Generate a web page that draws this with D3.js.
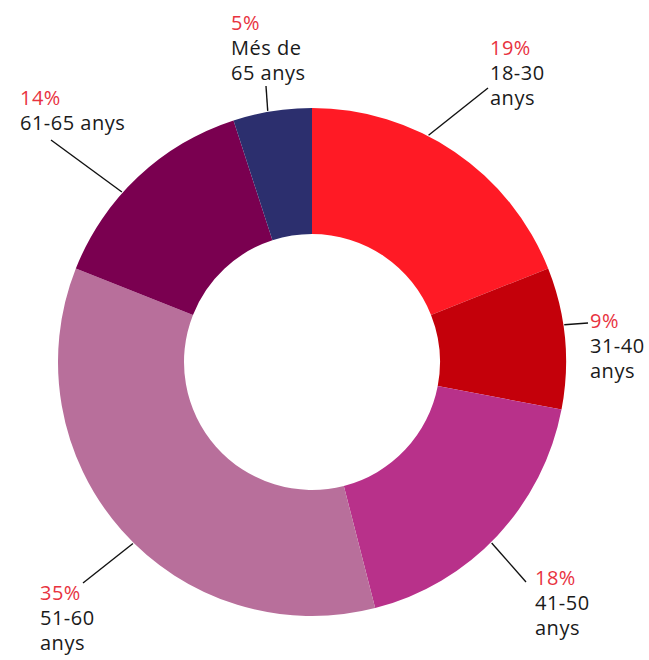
<!DOCTYPE html>
<html>
<head>
<meta charset="utf-8">
<script src="https://cdn.jsdelivr.net/npm/d3@7"></script>
<style>
  body { margin: 0; background: #fff; }
  text { font-family: "Open Sans", "DejaVu Sans", sans-serif; }
</style>
</head>
<body>
<svg id="chart" width="649" height="660"></svg>
<script>
"use strict";

// age groups, clockwise from the top
var categories = ["18-30 anys", "31-40 anys", "41-50 anys", "51-60 anys", "61-65 anys", "Més de 65 anys"];
var values = [19, 9, 18, 35, 14, 5];
var colors = ["#FF1A25", "#C4000A", "#B8318A", "#B86F9B", "#7A0050", "#2C2F6E"];
// how each label wraps onto lines
var labelLines = [["18-30", "anys"], ["31-40", "anys"], ["41-50", "anys"], ["51-60", "anys"], ["61-65 anys"], ["Més de", "65 anys"]];

// label layout: where the leader line ends, where the text block starts, angle nudge (deg)
var labelLayout = [
	{lx: 488, ly: 88, tx: 490, ty: 55, nudge: -7},
	{lx: 588, ly: 323, tx: 590, ty: 328, nudge: -3},
	{lx: 526, ly: 582, tx: 535, ty: 585, nudge: 2},
	{lx: 83, ly: 583, tx: 40, ty: 600, nudge: -4},
	{lx: 51, ly: 140, tx: 20, ty: 105, nudge: -5},
	{lx: 266, ly: 86, tx: 231, ty: 30, nudge: -1}
];

var svg = d3.select("#chart");
var cx = 312, cy = 362;
var outerR = 254, innerR = 128;

var data = categories.map(function(c, i){ return {cat: c, value: values[i], i: i}; });

var pie = d3.pie().sort(null).value(function(d){ return d.value; });
var arc = d3.arc().innerRadius(innerR).outerRadius(outerR);
var arcs = pie(data);

var g = svg.append("g").attr("transform", "translate(" + cx + "," + cy + ")");

g.selectAll("path.slice")
	.data(arcs)
	.enter()
	.append("path")
	.attr("class", "slice")
	.attr("d", arc)
	.style("fill", function(d){ return colors[d.data.i]; });

// leader lines from the rim to the label
function rimAngle(d){
	return (d.startAngle + d.endAngle)/2 + labelLayout[d.data.i].nudge*Math.PI/180;
}

svg.selectAll("line.leader")
	.data(arcs)
	.enter()
	.append("line")
	.attr("class", "leader")
	.style("stroke", "#111")
	.style("stroke-width", "1.4px")
	.attr("x1", function(d){ return cx + (outerR + 1)*Math.sin(rimAngle(d)); })
	.attr("y1", function(d){ return cy - (outerR + 1)*Math.cos(rimAngle(d)); })
	.attr("x2", function(d){ return labelLayout[d.data.i].lx; })
	.attr("y2", function(d){ return labelLayout[d.data.i].ly; });

var labels = svg.selectAll("text.label")
	.data(arcs)
	.enter()
	.append("text")
	.attr("class", "label")
	.style("font-size", "20px")
	.style("letter-spacing", "0.5px")
	.attr("x", function(d){ return labelLayout[d.data.i].tx; })
	.attr("y", function(d){ return labelLayout[d.data.i].ty; });

labels.append("tspan")
	.attr("x", function(d){ return labelLayout[d.data.i].tx; })
	.style("fill", "#E8333F")
	.text(function(d){ return d.data.value + "%"; });

labels.each(function(d){
	var t = d3.select(this);
	labelLines[d.data.i].forEach(function(line){
		t.append("tspan")
			.attr("x", labelLayout[d.data.i].tx)
			.attr("dy", 25)
			.style("fill", "#1a1a1a")
			.text(line);
	});
});
</script>
</body>
</html>
